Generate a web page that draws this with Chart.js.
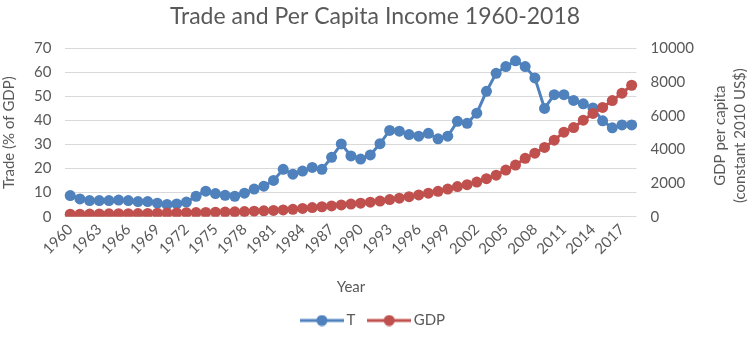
<!DOCTYPE html>
<html>
<head>
<meta charset="utf-8">
<script src="https://cdn.jsdelivr.net/npm/chart.js@4.4.0/dist/chart.umd.min.js"></script>
<style>
html, body { margin: 0; padding: 0; background: #fff; }
#wrap { width: 750px; height: 338px; }
</style>
</head>
<body>
<div id="wrap"><canvas id="tradeChart"></canvas></div>
<script>
let years = ['1960','1961','1962','1963','1964','1965','1966','1967','1968','1969',
             '1970','1971','1972','1973','1974','1975','1976','1977','1978','1979',
             '1980','1981','1982','1983','1984','1985','1986','1987','1988','1989',
             '1990','1991','1992','1993','1994','1995','1996','1997','1998','1999',
             '2000','2001','2002','2003','2004','2005','2006','2007','2008','2009',
             '2010','2011','2012','2013','2014','2015','2016','2017','2018']

// Trade (% of GDP)
let tradeValues = [8.8, 7.4, 6.7, 6.7, 6.7, 6.9, 6.7, 6.3, 6.3, 5.6,
                   5.1, 5.3, 6.1, 8.5, 10.6, 9.6, 8.9, 8.5, 9.8, 11.5,
                   12.7, 15.1, 19.7, 17.7, 19.0, 20.5, 19.7, 24.7, 30.3, 25.3,
                   24.0, 25.7, 30.4, 35.9, 35.6, 34.2, 33.5, 34.7, 32.4, 33.5,
                   39.7, 38.9, 43.1, 52.2, 59.7, 62.5, 64.9, 62.5, 57.8, 45.1,
                   50.8, 50.8, 48.4, 47.0, 45.3, 39.9, 37.0, 38.2, 38.2]

// GDP per capita (constant 2010 US$)
let gdpValues = [150, 150, 155, 160, 170, 175, 180, 185, 195, 205,
                 215, 225, 235, 245, 255, 265, 275, 290, 305, 325,
                 345, 370, 400, 440, 490, 540, 590, 640, 700, 750,
                 800, 860, 930, 1020, 1100, 1190, 1290, 1400, 1510, 1640,
                 1790, 1900, 2060, 2260, 2470, 2770, 3070, 3470, 3780, 4120,
                 4550, 5030, 5300, 5740, 6140, 6500, 6910, 7350, 7820]

let seriesNames = ['T', 'GDP']
let seriesColors = ['#4F81BD', '#C0504D']
let textColor = '#595959'
let gridColor = '#D9D9D9'
let fontFamily = 'Lato, "Open Sans", sans-serif'

// little line + dot picture for the legend
function legendMark(color) {
    let c = document.createElement('canvas')
    c.width = 44
    c.height = 12
    let g = c.getContext('2d')
    g.strokeStyle = color
    g.lineWidth = 3
    g.beginPath()
    g.moveTo(0, 6)
    g.lineTo(44, 6)
    g.stroke()
    g.fillStyle = color
    g.beginPath()
    g.arc(22, 6, 5.5, 0, Math.PI * 2)
    g.fill()
    return c
}

// right axis title reads bottom to top, so draw it ourselves
const rightTitle = {
    id: 'rightTitle',
    afterDraw(chart) {
        let s = chart.scales.y1
        let ctx = chart.ctx
        ctx.save()
        ctx.fillStyle = textColor
        ctx.font = '15px ' + fontFamily
        ctx.textAlign = 'center'
        ctx.textBaseline = 'middle'
        ctx.translate(s.right - 20, (s.top + s.bottom) / 2 + 3)
        ctx.rotate(-Math.PI / 2)
        ctx.fillText('GDP per capita', 0, -10)
        ctx.fillText('(constant 2010 US$)', 0, 10)
        ctx.restore()
    }
}

let ctx = document.getElementById('tradeChart').getContext('2d')

let tradeChart = new Chart(ctx, {
    type: 'line',
    data: {
        labels: years,
        datasets: [{
            label: seriesNames[0],
            data: tradeValues,
            borderColor: seriesColors[0],
            backgroundColor: seriesColors[0],
            borderWidth: 3,
            pointRadius: 5.5,
            pointBorderWidth: 0,
            yAxisID: 'y',
            order: 1
        }, {
            label: seriesNames[1],
            data: gdpValues,
            borderColor: seriesColors[1],
            backgroundColor: seriesColors[1],
            borderWidth: 3,
            pointRadius: 5.5,
            pointBorderWidth: 0,
            yAxisID: 'y1',
            order: 0
        }]
    },
    options: {
        responsive: true,
        maintainAspectRatio: false,
        animation: false,
        layout: { padding: { left: 0, right: 0, top: 0, bottom: 0 } },
        plugins: {
            title: {
                display: true,
                text: 'Trade and Per Capita Income 1960-2018',
                color: textColor,
                font: { family: fontFamily, size: 23, weight: 'normal' },
                padding: { top: 3, bottom: 18 }
            },
            legend: {
                position: 'bottom',
                labels: {
                    color: textColor,
                    font: { family: fontFamily, size: 15 },
                    usePointStyle: true,
                    pointStyleWidth: 34,
                    padding: 17,
                    sort: (a, b) => a.datasetIndex - b.datasetIndex,
                    generateLabels(chart) {
                        let items = Chart.defaults.plugins.legend.labels.generateLabels(chart)
                        items.forEach(it => { it.pointStyle = legendMark(seriesColors[it.datasetIndex]) })
                        return items
                    }
                }
            },
            tooltip: { enabled: false }
        },
        scales: {
            x: {
                offset: true,
                grid: { display: false, drawTicks: false },
                border: { display: false },
                ticks: {
                    color: textColor,
                    font: { family: fontFamily, size: 15 },
                    autoSkip: false,
                    minRotation: 45,
                    maxRotation: 45,
                    padding: 4,
                    callback: function(val, i) { return i % 3 === 0 ? this.getLabelForValue(val) : '' }
                },
                title: {
                    display: true,
                    text: 'Year',
                    color: textColor,
                    font: { family: fontFamily, size: 15 },
                    padding: { top: 16, bottom: 0 }
                }
            },
            y: {
                position: 'left',
                min: 0,
                max: 70,
                grid: { color: gridColor, drawTicks: false },
                border: { display: false },
                ticks: {
                    stepSize: 10,
                    color: textColor,
                    font: { family: fontFamily, size: 15 },
                    padding: 14
                },
                title: {
                    display: true,
                    text: 'Trade (% of GDP)',
                    color: textColor,
                    font: { family: fontFamily, size: 15 },
                    padding: { top: 0, bottom: 2 }
                }
            },
            y1: {
                position: 'right',
                min: 0,
                max: 10000,
                grid: { display: false, drawTicks: false },
                border: { display: false },
                ticks: {
                    stepSize: 2000,
                    color: textColor,
                    font: { family: fontFamily, size: 15 },
                    padding: 14,
                    callback: v => String(v)
                },
                title: {
                    display: true,
                    text: ['GDP per capita', '(constant 2010 US$)'],
                    color: 'rgba(0,0,0,0)',
                    font: { family: fontFamily, size: 15 },
                    padding: { top: 6, bottom: 0 }
                }
            }
        }
    },
    plugins: [rightTitle]
})
</script>
</body>
</html>
